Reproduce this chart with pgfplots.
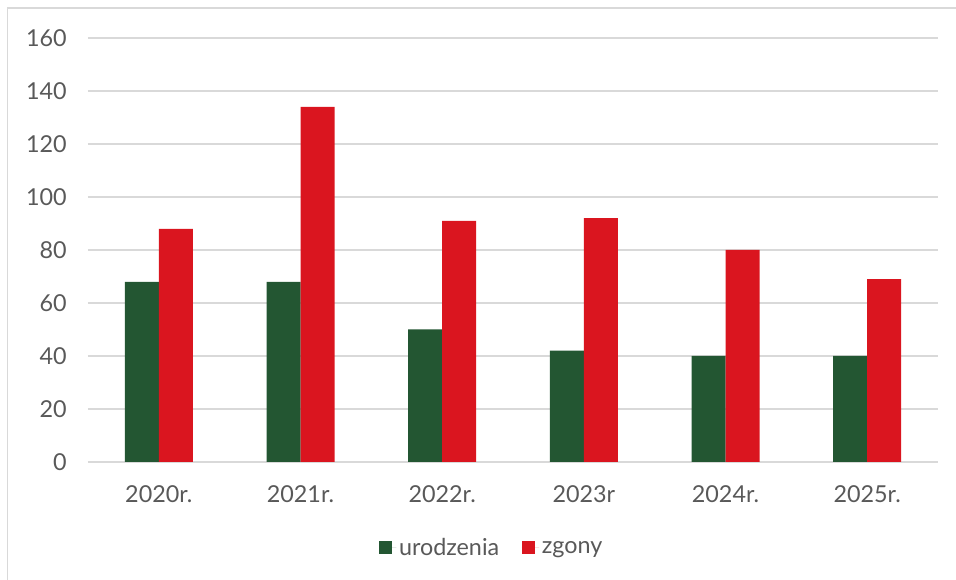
\documentclass[border=0pt]{standalone}
\usepackage{pgfplots}
\pgfplotsset{compat=1.18}
\usepackage{fontspec}
\setmainfont{Lato}
\definecolor{grn}{RGB}{35,86,50}
\definecolor{rd}{RGB}{218,21,31}
\definecolor{txt}{RGB}{89,89,89}
\definecolor{gridc}{RGB}{217,217,217}
\begin{document}
\begin{tikzpicture}[x=0.75pt,y=0.75pt]
\useasboundingbox (-88,-118) rectangle (868,462);
\draw[gridc, line width=1.1pt] (-80.5,-118) -- (-80.5,454) -- (868,454);
\begin{axis}[
  at={(0,0)}, anchor=south west,
  scale only axis, width=637.5pt, height=318pt,
  xmin=-0.5, xmax=5.5, ymin=0, ymax=160,
  ybar,
  ytick={0,20,...,160},
  xtick={0,...,5},
  xticklabels={2020r.,2021r.,2022r.,2023r,2024r.,2025r.},
  ymajorgrids, grid style={color=gridc, line width=1pt},
  axis line style={draw=none},
  major tick length=0pt,
  tick style={draw=none},
  /pgf/number format/assume math mode=true,
  tick label style={font=\fontsize{17.5}{20}\selectfont, text=txt, inner sep=0pt},
  yticklabel style={anchor=east, xshift=-15.75pt},
  xticklabel style={anchor=north, yshift=-17.25pt},
  legend columns=2,
  legend style={at={(0.4753,0)}, anchor=center, yshift=-64.5pt, draw=none,
    font=\fontsize{17.5}{20}\selectfont, text=txt,
    /tikz/every even column/.append style={column sep=15pt}},
  legend image code/.code={\fill[#1] (0pt,-4.875pt) rectangle (9.75pt,4.875pt);\path (0pt,0pt) -- (13pt,0pt);},
]
\addplot[fill=grn, draw=none, bar width=0.24, bar shift=-0.12] coordinates {(0,68) (1,68) (2,50) (3,42) (4,40) (5,40)};
\addplot[fill=rd, draw=none, bar width=0.24, bar shift=0.12] coordinates {(0,88) (1,134) (2,91) (3,92) (4,80) (5,69)};
\legend{urodzenia,zgony}
\end{axis}
\end{tikzpicture}
\end{document}
